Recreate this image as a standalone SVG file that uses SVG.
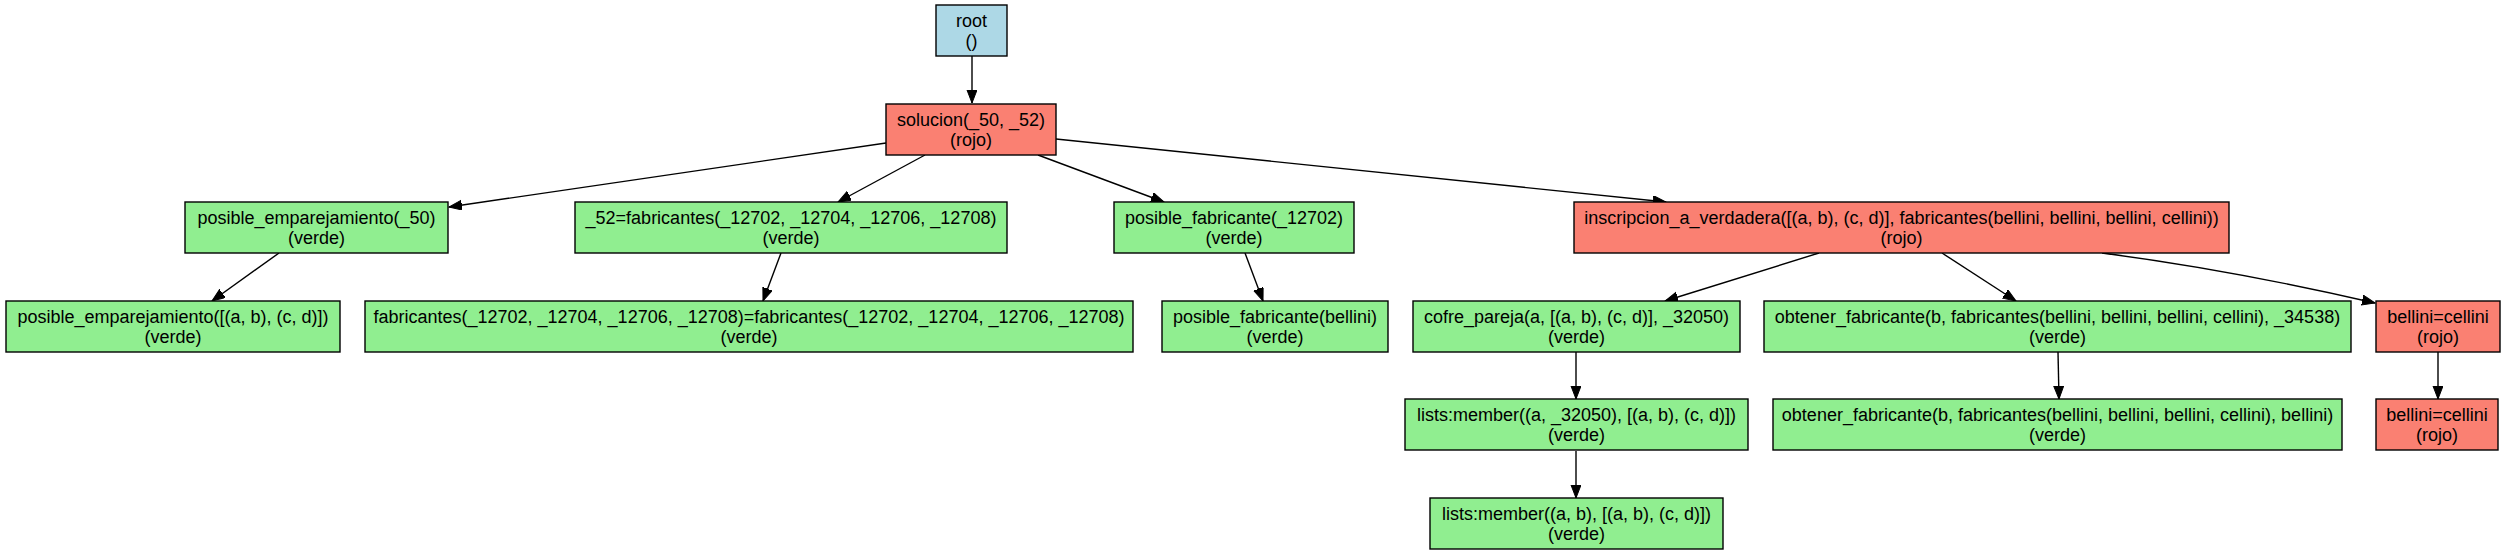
<svg xmlns="http://www.w3.org/2000/svg" width="2505" height="555" viewBox="0 0 2505 555">
<style>
rect{stroke:#000;stroke-width:1.4}
.b{fill:#add8e6}.r{fill:#fa8072}.g{fill:#90ee90}
text{font-family:"Liberation Sans",Arial,sans-serif;font-size:18px;fill:#000;text-anchor:middle}
#edges path{fill:none;stroke:#000;stroke-width:1.4;marker-end:url(#ah)}
</style>
<defs>
<marker id="ah" markerUnits="userSpaceOnUse" markerWidth="14" markerHeight="11" refX="13" refY="5" orient="auto"><path d="M0,0 L13,5 L0,10 z" fill="#000" stroke="#000" stroke-width="1"/></marker>
</defs>
<rect width="2505" height="555" fill="#fff" style="stroke:none"/>
<g id="edges">
<path d="M972,56 L972,103"/>
<path d="M886,143 L449,207"/>
<path d="M925,155 L838,202"/>
<path d="M1038,155 L1164,202"/>
<path d="M1056,139 L1666,202"/>
<path d="M279,253 L212,301"/>
<path d="M781,253 L763,301"/>
<path d="M1245,253 L1263,301"/>
<path d="M1819,253 L1665,301"/>
<path d="M1942,253 L2016,301"/>
<path d="M2102,253 Q2232,270 2375,303"/>
<path d="M1576,352 L1576,399"/>
<path d="M2058,352 L2059,399"/>
<path d="M2438,352 L2438,399"/>
<path d="M1576,451 L1576,498"/>
</g>
<g id="root"><rect class="b" x="936" y="5" width="71" height="51"/><text x="971.5" y="26.5">root</text><text x="971.5" y="46.5">()</text></g>
<g id="solucion"><rect class="r" x="886" y="104" width="170" height="51"/><text x="971" y="125.5">solucion(_50, _52)</text><text x="971" y="145.5">(rojo)</text></g>
<g id="pe50"><rect class="g" x="185" y="202" width="263" height="51"/><text x="316.5" y="223.5">posible_emparejamiento(_50)</text><text x="316.5" y="243.5">(verde)</text></g>
<g id="fab52"><rect class="g" x="575" y="202" width="432" height="51"/><text x="791" y="223.5">_52=fabricantes(_12702, _12704, _12706, _12708)</text><text x="791" y="243.5">(verde)</text></g>
<g id="pf12702"><rect class="g" x="1114" y="202" width="240" height="51"/><text x="1234" y="223.5">posible_fabricante(_12702)</text><text x="1234" y="243.5">(verde)</text></g>
<g id="inscripcion"><rect class="r" x="1574" y="202" width="655" height="51"/><text x="1901.5" y="223.5">inscripcion_a_verdadera([(a, b), (c, d)], fabricantes(bellini, bellini, bellini, cellini))</text><text x="1901.5" y="243.5">(rojo)</text></g>
<g id="pe_list"><rect class="g" x="6" y="301" width="334" height="51"/><text x="173" y="322.5">posible_emparejamiento([(a, b), (c, d)])</text><text x="173" y="342.5">(verde)</text></g>
<g id="fab_eq"><rect class="g" x="365" y="301" width="768" height="51"/><text x="749" y="322.5">fabricantes(_12702, _12704, _12706, _12708)=fabricantes(_12702, _12704, _12706, _12708)</text><text x="749" y="342.5">(verde)</text></g>
<g id="pf_bellini"><rect class="g" x="1162" y="301" width="226" height="51"/><text x="1275" y="322.5">posible_fabricante(bellini)</text><text x="1275" y="342.5">(verde)</text></g>
<g id="cofre"><rect class="g" x="1413" y="301" width="327" height="51"/><text x="1576.5" y="322.5">cofre_pareja(a, [(a, b), (c, d)], _32050)</text><text x="1576.5" y="342.5">(verde)</text></g>
<g id="obtener1"><rect class="g" x="1764" y="301" width="587" height="51"/><text x="2057.5" y="322.5">obtener_fabricante(b, fabricantes(bellini, bellini, bellini, cellini), _34538)</text><text x="2057.5" y="342.5">(verde)</text></g>
<g id="bc1"><rect class="r" x="2376" y="301" width="124" height="51"/><text x="2438" y="322.5">bellini=cellini</text><text x="2438" y="342.5">(rojo)</text></g>
<g id="member1"><rect class="g" x="1405" y="399" width="343" height="51"/><text x="1576.5" y="420.5">lists:member((a, _32050), [(a, b), (c, d)])</text><text x="1576.5" y="440.5">(verde)</text></g>
<g id="obtener2"><rect class="g" x="1773" y="399" width="569" height="51"/><text x="2057.5" y="420.5">obtener_fabricante(b, fabricantes(bellini, bellini, bellini, cellini), bellini)</text><text x="2057.5" y="440.5">(verde)</text></g>
<g id="bc2"><rect class="r" x="2376" y="399" width="122" height="51"/><text x="2437" y="420.5">bellini=cellini</text><text x="2437" y="440.5">(rojo)</text></g>
<g id="member2"><rect class="g" x="1430" y="498" width="293" height="51"/><text x="1576.5" y="519.5">lists:member((a, b), [(a, b), (c, d)])</text><text x="1576.5" y="539.5">(verde)</text></g>
</svg>
